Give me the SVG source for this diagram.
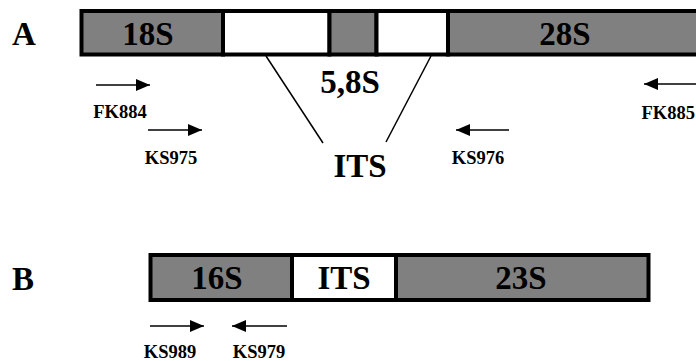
<svg xmlns="http://www.w3.org/2000/svg" width="696" height="361" viewBox="0 0 696 361">
<defs>
<style>
.gray{fill:#808080;stroke:#000;stroke-width:4}
.white{fill:#fff;stroke:#000;stroke-width:4}
.big{font-family:"Liberation Serif","Times New Roman",serif;font-weight:bold;font-size:33px;fill:#000;text-anchor:middle}
.lab{font-family:"Liberation Serif","Times New Roman",serif;font-weight:bold;font-size:18.5px;fill:#000;text-anchor:middle}
.arr{stroke:#000;stroke-width:1.5;fill:none}
.ln{stroke:#000;stroke-width:1.5;fill:none}
</style>
<marker id="ah" viewBox="0 0 14 12" refX="14" refY="6" markerWidth="14" markerHeight="12" markerUnits="userSpaceOnUse" orient="auto">
<path d="M0,0 L14,6 L0,12 Z" fill="#000"/>
</marker>
</defs>
<rect width="696" height="361" fill="#fff"/>
<g id="panelA">
<text x="24" y="45" class="big">A</text>
<g id="n18S"><rect class="gray" x="81.5" y="11" width="141.5" height="43.5"/><text x="148" y="45" class="big">18S</text></g>
<g id="nITS1"><rect class="white" x="223" y="11" width="106.5" height="43.5"/></g>
<g id="n58S"><rect class="gray" x="329.5" y="11" width="47" height="43.5"/></g>
<g id="nITS2"><rect class="white" x="376.5" y="11" width="71.5" height="43.5"/></g>
<g id="n28S"><rect class="gray" x="448" y="11" width="260" height="43.5"/><text x="565" y="45" class="big">28S</text></g>
<text x="350" y="93" class="big">5,8S</text>
<text x="360" y="177" class="big">ITS</text>
</g>
<g id="panelB">
<text x="23" y="290" class="big">B</text>
<g id="n16S"><rect class="gray" x="150.5" y="255" width="141.5" height="45"/><text x="217" y="289" class="big">16S</text></g>
<g id="nITSB"><rect class="white" x="292" y="255" width="104" height="45"/><text x="344" y="289" class="big">ITS</text></g>
<g id="n23S"><rect class="gray" x="396" y="255" width="252.5" height="45"/><text x="521" y="289" class="big">23S</text></g>
</g>
<g id="connectors">
<line class="ln" x1="266" y1="56" x2="323" y2="143"/>
<line class="ln" x1="431" y1="56" x2="386" y2="142"/>
<line class="arr" x1="96" y1="85" x2="150" y2="85" marker-end="url(#ah)"/>
<line class="arr" x1="148" y1="130" x2="202" y2="130" marker-end="url(#ah)"/>
<line class="arr" x1="509" y1="130" x2="456" y2="130" marker-end="url(#ah)"/>
<line class="arr" x1="698" y1="84" x2="644" y2="84" marker-end="url(#ah)"/>
<line class="arr" x1="150" y1="326" x2="204" y2="326" marker-end="url(#ah)"/>
<line class="arr" x1="287" y1="326" x2="232" y2="326" marker-end="url(#ah)"/>
</g>
<g id="labels">
<text x="120" y="118" class="lab">FK884</text>
<text x="171" y="164" class="lab">KS975</text>
<text x="478" y="164" class="lab">KS976</text>
<text x="695" y="119" class="lab" style="text-anchor:end">FK885</text>
<text x="170" y="358" class="lab">KS989</text>
<text x="259" y="358" class="lab">KS979</text>
</g>
</svg>
